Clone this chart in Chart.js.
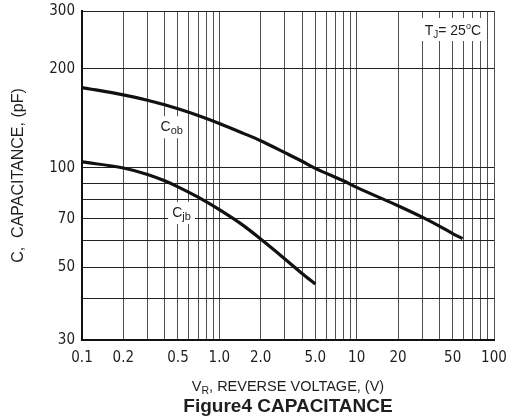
<!DOCTYPE html>
<html>
<head>
<meta charset="utf-8">
<script src="https://cdn.jsdelivr.net/npm/chart.js@4.4.1/dist/chart.umd.min.js"></script>
<style>
html,body{margin:0;padding:0;background:#ffffff;}
#wrap{width:506px;height:417px;}
</style>
</head>
<body>
<div id="wrap"><canvas id="c" width="506" height="417"></canvas></div>
<script>
// ---- data (V, pF) ----
const cobVoltage     = [0.1, 0.2, 0.3, 0.4, 0.5, 0.7, 1.0, 1.5, 2.0, 3.0, 4.0, 5.0, 8.0, 10, 20, 30, 40, 50, 59];
const cobCapacitance = [175.6, 166.8, 160.7, 155.6, 151.3, 144.4, 136.6, 127.4, 121, 111.3, 104.8, 99.7, 91.4, 87.3, 76.8, 70.9, 66.6, 63.2, 61];
const cjbVoltage     = [0.1, 0.2, 0.3, 0.4, 0.5, 0.7, 1.0, 1.5, 2.0, 3.0, 4.0, 5.0];
const cjbCapacitance = [104.3, 100, 95.6, 91.4, 87.6, 81.5, 74.7, 66.8, 60.8, 52.9, 47.8, 44.4];

// ---- axes ----
const xGridValues  = [0.1, 0.2, 0.3, 0.4, 0.5, 0.6, 0.7, 0.8, 0.9, 1, 2, 3, 4, 5, 6, 7, 8, 9, 10, 20, 30, 40, 50, 60, 70, 80, 90, 100];
const xLabelValues = [0.1, 0.2, 0.5, 1, 2, 5, 10, 20, 50, 100];
const xTickLabels  = ['0.1', '0.2', '0.5', '1.0', '2.0', '5.0', '10', '20', '50', '100'];
const yGridValues  = [30, 40, 50, 60, 70, 80, 90, 100, 200, 300];
const yTickLabels  = [30, 50, 70, 100, 200, 300];

const NARROW = '"Liberation Sans Narrow", "DejaVu Sans Condensed", "Liberation Sans", sans-serif';
const SANS = '"Liberation Sans", Arial, sans-serif';
const INK = '#1e1e1e';

function pts(xs, ys) { return xs.map((v, i) => ({ x: v, y: ys[i] })); }

function subLabel(ctx, main, sub, cx, cy, size) {
  ctx.save();
  ctx.font = size + 'px ' + SANS;
  const w1 = ctx.measureText(main).width;
  ctx.font = Math.round(size * 0.75) + 'px ' + SANS;
  const w2 = ctx.measureText(sub).width;
  const w = w1 + w2;
  ctx.fillStyle = '#ffffff';
  ctx.fillRect(cx - w / 2 - 4, cy - 11, w + 8, 22);
  ctx.fillStyle = INK;
  ctx.textBaseline = 'alphabetic';
  ctx.textAlign = 'left';
  ctx.font = size + 'px ' + SANS;
  ctx.fillText(main, cx - w / 2, cy + 4);
  ctx.font = Math.round(size * 0.75) + 'px ' + SANS;
  ctx.fillText(sub, cx - w / 2 + w1, cy + 7);
  ctx.restore();
}

const annotationPlugin = {
  id: 'datasheetText',
  beforeDatasetsDraw(chart) {
    const { ctx, chartArea: a, scales: { x, y } } = chart;
    subLabel(ctx, 'C', 'ob', x.getPixelForValue(0.45), y.getPixelForValue(133), 14);
    subLabel(ctx, 'C', 'jb', x.getPixelForValue(0.53), y.getPixelForValue(73), 14);
    // T_J = 25 °C
    ctx.save();
    const parts = [
      ['T', 14, 0], ['J', 10, 3], ['= 25', 14, 0], ['o', 9, -6], ['C', 14, 0]
    ];
    let total = 0;
    parts.forEach(p => { ctx.font = p[1] + 'px ' + SANS; total += ctx.measureText(p[0]).width; });
    const right = a.right - 13, base = a.top + 24;
    let xx = right - total;
    ctx.fillStyle = '#ffffff';
    ctx.fillRect(xx - 3, a.top + 7, total + 6, 23);
    ctx.fillStyle = INK;
    ctx.textAlign = 'left';
    ctx.textBaseline = 'alphabetic';
    parts.forEach(p => {
      ctx.font = p[1] + 'px ' + SANS;
      ctx.fillText(p[0], xx, base + p[2]);
      xx += ctx.measureText(p[0]).width;
    });
    ctx.restore();
  },
  afterDraw(chart) {
    const { ctx, chartArea: a } = chart;
    const cx = (a.left + a.right) / 2;
    ctx.save();
    ctx.fillStyle = INK;
    ctx.textBaseline = 'alphabetic';
    ctx.textAlign = 'left';
    // V_R, REVERSE VOLTAGE, (V)
    const p1 = 'V', p2 = 'R', p3 = ', REVERSE VOLTAGE, (V)';
    ctx.font = '14.5px ' + SANS; const w1 = ctx.measureText(p1).width; const w3 = ctx.measureText(p3).width;
    ctx.font = '10.5px ' + SANS; const w2 = ctx.measureText(p2).width;
    let sx = cx - (w1 + w2 + w3) / 2;
    const b1 = a.bottom + 51;
    ctx.font = '14.5px ' + SANS; ctx.fillText(p1, sx, b1); sx += w1;
    ctx.font = '10.5px ' + SANS; ctx.fillText(p2, sx, b1 + 3); sx += w2;
    ctx.font = '14.5px ' + SANS; ctx.fillText(p3, sx, b1);
    // caption
    ctx.font = 'bold 19px ' + SANS;
    ctx.textAlign = 'center';
    ctx.fillText('Figure4 CAPACITANCE', cx, a.bottom + 72);
    ctx.restore();
  }
};

new Chart(document.getElementById('c'), {
  type: 'line',
  data: {
    datasets: [
      { label: 'Cob', data: pts(cobVoltage, cobCapacitance), borderColor: '#111111', borderWidth: 3.2,
        pointRadius: 0, fill: false, cubicInterpolationMode: 'monotone' },
      { label: 'Cjb', data: pts(cjbVoltage, cjbCapacitance), borderColor: '#111111', borderWidth: 3.2,
        pointRadius: 0, fill: false, cubicInterpolationMode: 'monotone' }
    ]
  },
  options: {
    responsive: false,
    animation: false,
    devicePixelRatio: 1,
    layout: { padding: { top: 11, right: 12, bottom: 0, left: 0 } },
    plugins: { legend: { display: false }, tooltip: { enabled: false }, title: { display: false } },
    scales: {
      x: {
        type: 'logarithmic', min: 0.1, max: 100,
        afterBuildTicks: s => { s.ticks = xGridValues.map(v => ({ value: v })); },
        afterFit: s => { s.height = 77; s.paddingLeft = 0; s.paddingRight = 0; },
        grid: { color: '#505050', lineWidth: 1, drawTicks: false },
        border: { display: true, color: '#111111', width: 2 },
        ticks: {
          autoSkip: false, maxRotation: 0, minRotation: 0, padding: 9, color: INK,
          font: { family: NARROW, size: 15 },
          callback: v => { const i = xLabelValues.indexOf(v); return i >= 0 ? xTickLabels[i] : ''; }
        }
      },
      y: {
        type: 'logarithmic', min: 30, max: 300,
        afterBuildTicks: s => { s.ticks = yGridValues.map(v => ({ value: v })); },
        afterFit: s => { s.width = 82; s.paddingTop = 0; s.paddingBottom = 0; },
        grid: { color: '#222222', lineWidth: 1, drawTicks: false },
        border: { display: true, color: '#111111', width: 2 },
        ticks: {
          autoSkip: false, padding: 7, color: INK,
          font: { family: NARROW, size: 15 },
          callback: v => (yTickLabels.includes(v) ? String(v) : '')
        },
        title: { display: true, text: 'C,  CAPACITANCE, (pF)', color: INK,
          font: { family: SANS, size: 16 }, padding: { top: 9, bottom: 0 } }
      }
    }
  },
  plugins: [annotationPlugin]
});
</script>
</body>
</html>
